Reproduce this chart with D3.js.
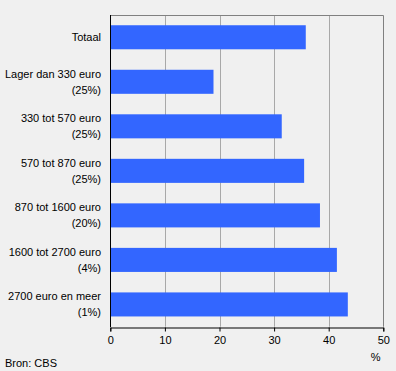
<!DOCTYPE html>
<html><head><meta charset="utf-8">
<script src="https://cdn.jsdelivr.net/npm/d3@7"></script>
<style>
html,body{margin:0;padding:0;background:#f0f0f0;}
svg{display:block;font-family:Arial,"Liberation Sans",sans-serif;}
</style></head>
<body>
<script>
const categories = [
  ["Totaal"],
  ["Lager dan 330 euro", "(25%)"],
  ["330 tot 570 euro", "(25%)"],
  ["570 tot 870 euro", "(25%)"],
  ["870 tot 1600 euro", "(20%)"],
  ["1600 tot 2700 euro", "(4%)"],
  ["2700 euro en meer", "(1%)"]
];
const values = [35.8, 18.9, 31.4, 35.5, 38.4, 41.5, 43.5];
const xTicks = [0, 10, 20, 30, 40, 50];
const unitLabel = "%";
const sourceLabel = "Bron: CBS";

const W = 396, H = 371;
const m = {left: 110.3, right: 12.7, top: 15, bottom: 44.3};
const svg = d3.select("body").append("svg").attr("width", W).attr("height", H);
svg.append("rect").attr("width", W).attr("height", H).attr("fill", "#f0f0f0");

const x = d3.scaleLinear().domain([0, 50]).range([m.left, W - m.right]);
const y = d3.scaleBand().domain(d3.range(categories.length))
  .range([m.top, H - m.bottom]).paddingInner(0.46).paddingOuter(0.23);

// gridlines
svg.append("g").selectAll("line").data(xTicks.slice(1, -1)).join("line")
  .attr("x1", d => Math.round(x(d)) + 0.5).attr("x2", d => Math.round(x(d)) + 0.5)
  .attr("y1", m.top).attr("y2", H - m.bottom)
  .attr("stroke", "#a8a8a8").attr("stroke-width", 1);

// top and right border
svg.append("path")
  .attr("d", `M${Math.round(x(0))},${Math.round(m.top)+0.5}H${Math.round(x(50))+0.5}V${H - m.bottom}`)
  .attr("fill", "none").attr("stroke", "#808080").attr("stroke-width", 1);

// bars
svg.append("g").selectAll("rect").data(values).join("rect")
  .attr("x", x(0)).attr("y", (d, i) => y(i))
  .attr("width", d => x(d) - x(0)).attr("height", y.bandwidth())
  .attr("fill", "#3366ff");

// x axis
const xAxis = d3.axisBottom(x).tickValues(xTicks).tickSize(4).tickPadding(5);
const gx = svg.append("g").attr("transform", `translate(0,${Math.round(H - m.bottom) + 0.5})`).call(xAxis);
gx.select(".domain").attr("stroke", "#000");
gx.selectAll(".tick line").attr("stroke", "#000");
gx.selectAll(".tick text").attr("font-size", 11).attr("fill", "#000")
  .attr("font-family", "Arial, 'Liberation Sans', sans-serif");

// y axis line
svg.append("line").attr("x1", Math.round(x(0)) + 0.5).attr("x2", Math.round(x(0)) + 0.5)
  .attr("y1", m.top).attr("y2", H - m.bottom + 0.5).attr("stroke", "#000");

// category labels
const lab = svg.append("g").selectAll("text").data(categories).join("text")
  .attr("text-anchor", "end").attr("font-size", 11).attr("fill", "#000")
  .attr("x", 101)
  .attr("y", (d, i) => y(i) + y.bandwidth() / 2);
lab.selectAll("tspan").data(d => d.map((t, k) => ({t, k, n: d.length}))).join("tspan")
  .attr("x", 101)
  .attr("dy", d => d.k === 0 ? (d.n === 1 ? "0.35em" : (0.35 * 11 - 8) + "px") : "16px")
  .text(d => d.t);

// unit label
svg.append("text").attr("x", 375.7).attr("y", 360.5).attr("text-anchor", "middle")
  .attr("font-size", 11).attr("fill", "#000").text(unitLabel);

// source
svg.append("text").attr("x", 5).attr("y", 367).attr("font-size", 11)
  .attr("fill", "#000").text(sourceLabel);
</script>
</body></html>
